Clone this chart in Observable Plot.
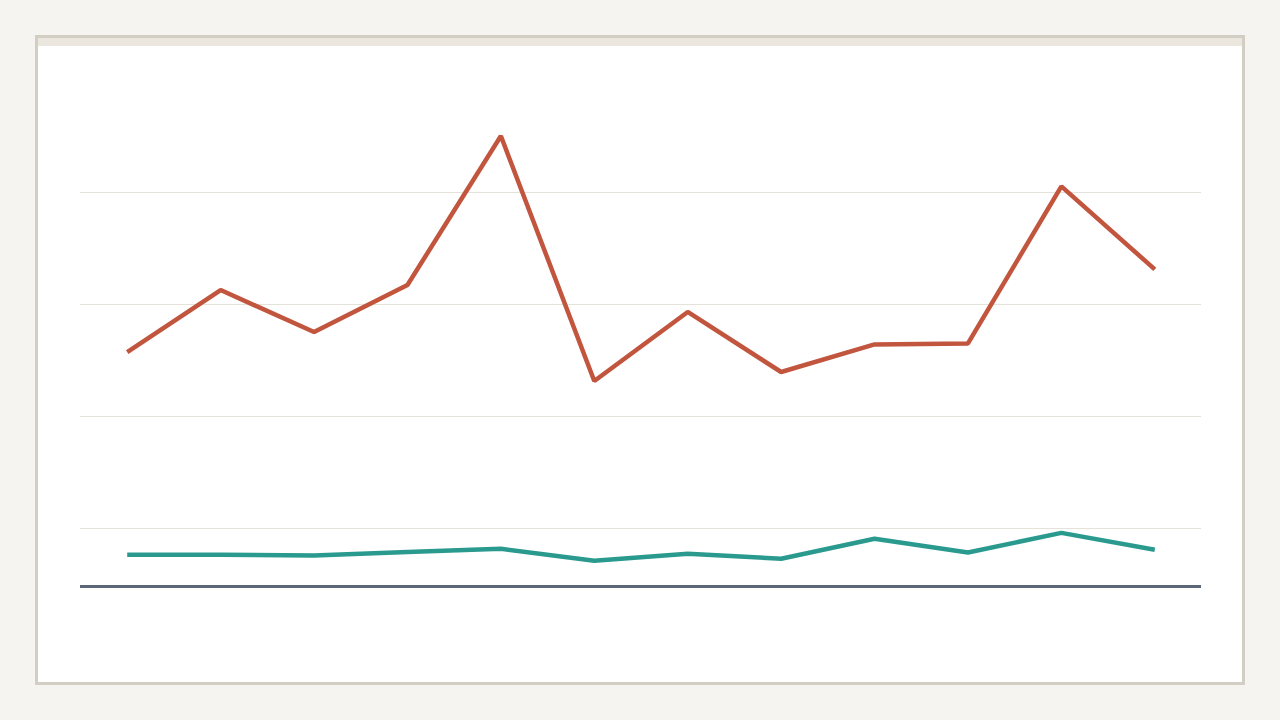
<!DOCTYPE html>
<html>
<head>
<meta charset="utf-8">
<script src="https://cdn.jsdelivr.net/npm/d3@7"></script>
<script src="https://cdn.jsdelivr.net/npm/@observablehq/plot@0.6"></script>
<style>
  html, body { margin: 0; padding: 0; background: #f5f4f0; width: 1280px; height: 720px; overflow: hidden; }
  #card { position: absolute; left: 35px; top: 35px; width: 1210px; height: 650px; box-sizing: border-box;
          border: 3px solid #d3cec4; background: #ffffff; }
  #strip { height: 8px; background: #ebe7de; }
  #chart svg { display: block; }
</style>
</head>
<body>
<div id="card">
  <div id="strip"></div>
  <div id="chart"></div>
</div>
<script>
const months = ["Jan","Feb","Mar","Apr","May","Jun","Jul","Aug","Sep","Oct","Nov","Dec"];
const seriesA = [25.75, 31.29, 27.54, 31.74, 45.04, 23.17, 29.33, 23.97, 26.43, 26.52, 40.54, 33.13];
const seriesB = [7.66, 7.66, 7.59, 7.89, 8.19, 7.12, 7.74, 7.30, 9.08, 7.86, 9.61, 8.10];
const gridTicks = [10, 20, 30, 40];
const yMin = 4.82, yMax = 49.46;

const rows = [];
months.forEach((m, i) => {
  rows.push({month: m, value: seriesA[i], series: "A"});
  rows.push({month: m, value: seriesB[i], series: "B"});
});

const chart = Plot.plot({
  width: 1204,
  height: 636,
  marginLeft: 42,
  marginRight: 41,
  marginTop: 40,
  marginBottom: 96,
  style: { background: "transparent" },
  x: { type: "point", domain: months, padding: 0.5, round: false, axis: null },
  y: { domain: [yMin, yMax], axis: null },
  color: { domain: ["A", "B"], range: ["#c2553e", "#2a9a8f"] },
  marks: [
    Plot.ruleY(gridTicks, { stroke: "#e4e2d8", strokeWidth: 1 }),
    Plot.ruleY([yMin], { stroke: "#5b6676", strokeWidth: 3 }),
    Plot.line(rows, { x: "month", y: "value", z: "series", stroke: "series",
      strokeWidth: 4.5, strokeLinecap: "butt", strokeLinejoin: "miter" })
  ]
});
document.getElementById("chart").appendChild(chart);
</script>
</body>
</html>
